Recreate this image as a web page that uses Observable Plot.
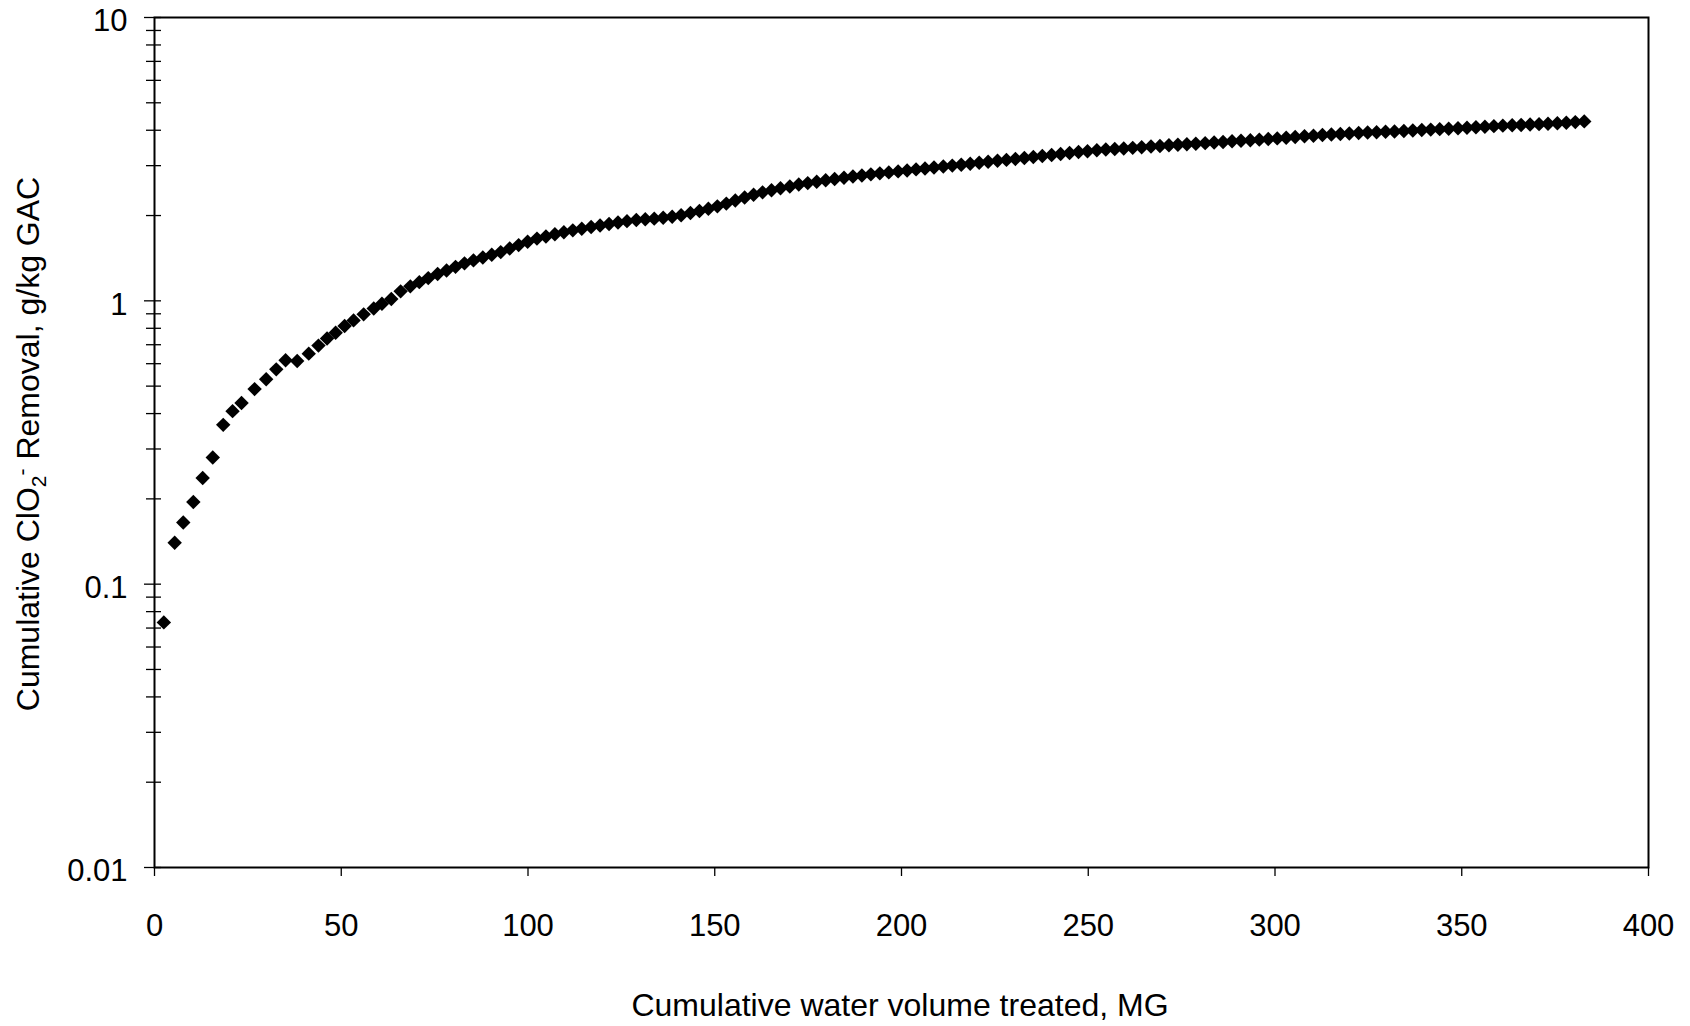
<!DOCTYPE html>
<html><head><meta charset="utf-8">
<script src="https://cdn.jsdelivr.net/npm/d3@7"></script>
<script src="https://cdn.jsdelivr.net/npm/@observablehq/plot@0.6"></script>
<style>
html,body{margin:0;padding:0;background:#fff;}
#chart svg{display:block;}
</style>
</head><body><div id="chart"></div>
<script>
// Cumulative water volume treated (MG)
const volumeMG = [
  2.5, 5.4, 7.7, 10.4, 12.9, 15.6, 18.4, 20.9, 23.3, 26.8, 29.9, 32.6, 35.1, 38.2, 41.3, 43.9, 46.2, 48.5, 50.9, 53.3,
  56.0, 58.7, 60.9, 63.4, 65.9, 68.5, 70.9, 73.3, 75.8, 78.2, 80.6, 83.0, 85.4, 87.9, 90.3, 92.7, 95.1, 97.5, 99.9, 102.4,
  104.8, 107.2, 109.6, 112.0, 114.4, 116.9, 119.3, 121.7, 124.1, 126.5, 129.0, 131.4, 133.8, 136.2, 138.6, 141.0, 143.5, 145.9, 148.3, 150.7,
  153.1, 155.5, 158.0, 160.4, 162.8, 165.2, 167.6, 170.1, 172.5, 174.9, 177.3, 179.7, 182.1, 184.6, 187.0, 189.4, 191.8, 194.2, 196.6, 199.1,
  201.5, 203.9, 206.3, 208.7, 211.2, 213.6, 216.0, 218.4, 220.8, 223.2, 225.7, 228.1, 230.5, 232.9, 235.3, 237.7, 240.2, 242.6, 245.0, 247.4,
  249.8, 252.3, 254.7, 257.1, 259.5, 261.9, 264.3, 266.8, 269.2, 271.6, 274.0, 276.4, 278.8, 281.3, 283.7, 286.1, 288.5, 290.9, 293.4, 295.8,
  298.2, 300.6, 303.0, 305.4, 307.9, 310.3, 312.7, 315.1, 317.5, 319.9, 322.4, 324.8, 327.2, 329.6, 332.0, 334.5, 336.9, 339.3, 341.7, 344.1,
  346.5, 349.0, 351.4, 353.8, 356.2, 358.6, 361.0, 363.5, 365.9, 368.3, 370.7, 373.1, 375.6, 378.0, 380.4, 382.8
];
// Cumulative ClO2- removal (g/kg GAC)
const removal = [
  0.0733, 0.140, 0.165, 0.195, 0.237, 0.280, 0.365, 0.408, 0.436, 0.488, 0.529, 0.573, 0.617, 0.613, 0.651, 0.695, 0.736, 0.772, 0.815, 0.853,
  0.896, 0.939, 0.977, 1.015, 1.080, 1.125, 1.164, 1.203, 1.243, 1.280, 1.318, 1.356, 1.389, 1.423, 1.454, 1.486, 1.530, 1.573, 1.617, 1.658,
  1.688, 1.717, 1.747, 1.773, 1.796, 1.821, 1.845, 1.868, 1.891, 1.911, 1.928, 1.941, 1.950, 1.963, 1.980, 2.005, 2.041, 2.076, 2.115, 2.155,
  2.204, 2.259, 2.315, 2.368, 2.415, 2.457, 2.495, 2.534, 2.572, 2.603, 2.633, 2.663, 2.692, 2.719, 2.745, 2.771, 2.795, 2.818, 2.840, 2.863,
  2.886, 2.910, 2.933, 2.956, 2.979, 3.001, 3.023, 3.046, 3.071, 3.095, 3.121, 3.144, 3.167, 3.191, 3.218, 3.245, 3.273, 3.300, 3.326, 3.350,
  3.374, 3.399, 3.419, 3.435, 3.451, 3.467, 3.485, 3.503, 3.521, 3.539, 3.554, 3.570, 3.585, 3.602, 3.620, 3.638, 3.656, 3.673, 3.690, 3.706,
  3.723, 3.744, 3.765, 3.787, 3.808, 3.827, 3.846, 3.864, 3.880, 3.895, 3.910, 3.925, 3.937, 3.950, 3.962, 3.976, 3.991, 4.006, 4.021, 4.036,
  4.051, 4.067, 4.082, 4.100, 4.118, 4.136, 4.153, 4.165, 4.177, 4.189, 4.203, 4.219, 4.235, 4.251, 4.274, 4.298
];
const xTicks = [0, 50, 100, 150, 200, 250, 300, 350, 400];
const yMajorTicks = [0.01, 0.1, 1, 10];
const yMinorTicks = [0.02, 0.03, 0.04, 0.05, 0.06, 0.07, 0.08, 0.09,
                     0.2, 0.3, 0.4, 0.5, 0.6, 0.7, 0.8, 0.9,
                     2, 3, 4, 5, 6, 7, 8, 9];
const xTitle = "Cumulative water volume treated, MG";
const yTitleStart = "Cumulative ClO";
const yTitleSub = "2";
const yTitleSup = "-";
const yTitleEnd = " Removal, g/kg GAC";

const W = 1690, H = 1026;
const mL = 154, mR = 42, mT = 17, mB = 159;
const plotW = W - mL - mR;
const FONT = "'Liberation Sans', Arial, Helvetica, sans-serif";

const data = volumeMG.map((x, i) => ({x, y: removal[i]}));

const chart = Plot.plot({
  width: W, height: H,
  marginLeft: mL, marginRight: mR, marginTop: mT, marginBottom: mB,
  style: {fontFamily: FONT, fontSize: "31px", color: "#000", background: "#fff", overflow: "visible"},
  x: {domain: [0, 400]},
  y: {type: "log", domain: [0.01, 10]},
  marks: [
    Plot.axisX({ticks: xTicks, tickSize: 9, tickPadding: 37, tickFormat: d => String(d), label: null, strokeWidth: 1.3, fill: "#000"}),
    Plot.axisY({ticks: yMajorTicks, tickSize: 0, tickPadding: 27, tickFormat: d => String(d), label: null, dy: 4, fill: "#000"}),
    Plot.tickY(yMajorTicks, {y: d => d, insetLeft: -10, insetRight: plotW - 7, stroke: "#000", strokeWidth: 1.3}),
    Plot.tickY(yMinorTicks, {y: d => d, insetLeft: -8, insetRight: plotW - 7, stroke: "#000", strokeWidth: 1.3}),
    Plot.frame({stroke: "#000", strokeWidth: 2}),
    Plot.dot(data, {x: "x", y: "y", symbol: "diamond2", r: 6.5, fill: "#000", stroke: "none"})
  ]
});

const svg = d3.select(chart);
svg.append("text")
  .attr("x", 900)
  .attr("y", 1016)
  .attr("text-anchor", "middle")
  .attr("fill", "#000")
  .style("font-family", FONT)
  .style("font-size", "32px")
  .text(xTitle);

const yt = svg.append("text")
  .attr("transform", "translate(39,444) rotate(-90)")
  .attr("text-anchor", "middle")
  .attr("fill", "#000")
  .style("font-family", FONT)
  .style("font-size", "32px");
yt.append("tspan").text(yTitleStart);
yt.append("tspan").attr("dy", 7).style("font-size", "21px").text(yTitleSub);
yt.append("tspan").attr("dy", -17).style("font-size", "21px").text(yTitleSup);
yt.append("tspan").attr("dy", 10).text(yTitleEnd);

document.getElementById("chart").appendChild(chart);
</script>
</body></html>
